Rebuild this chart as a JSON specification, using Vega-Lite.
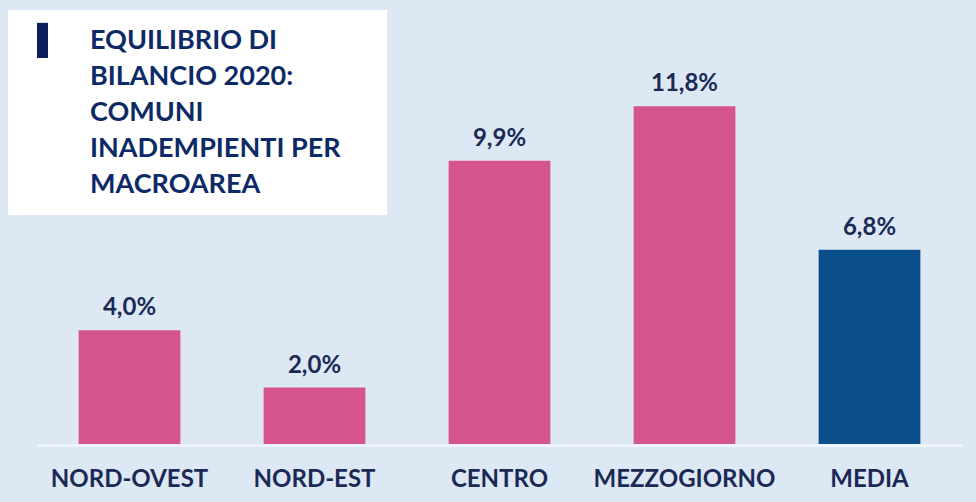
{
  "$schema": "https://vega.github.io/schema/vega-lite/v6.json",
  "width": 925,
  "height": 445,
  "autosize": "none",
  "padding": {"left": 37, "right": 14, "top": 0, "bottom": 57},
  "background": "#dde8f5",
  "config": {
    "view": {"stroke": null},
    "locale": {"number": {"decimal": ",", "thousands": ".", "grouping": [3], "currency": ["€", ""]}}
  },
  "title": {
    "text": ["EQUILIBRIO DI", "BILANCIO 2020:", "COMUNI", "INADEMPIENTI PER", "MACROAREA"],
    "anchor": "start",
    "frame": "group",
    "orient": "top",
    "offset": 0,
    "baseline": "top",
    "dx": 53,
    "dy": 199,
    "lineHeight": 36,
    "font": "Lato",
    "fontSize": 27,
    "fontWeight": "bold",
    "color": "#0d2a66"
  },
  "data": {
    "values": [
      {"area": "NORD-OVEST", "quota": 0.040, "tipo": "macroarea"},
      {"area": "NORD-EST", "quota": 0.020, "tipo": "macroarea"},
      {"area": "CENTRO", "quota": 0.099, "tipo": "macroarea"},
      {"area": "MEZZOGIORNO", "quota": 0.118, "tipo": "macroarea"},
      {"area": "MEDIA", "quota": 0.068, "tipo": "media"}
    ]
  },
  "encoding": {
    "x": {
      "field": "area",
      "type": "nominal",
      "sort": null,
      "scale": {"paddingInner": 0.45, "paddingOuter": 0.225},
      "axis": {
        "title": null,
        "labelAngle": 0,
        "ticks": false,
        "domainColor": "#eef3f9",
        "domainWidth": 3,
        "labelFont": "Lato",
        "labelFontSize": 24,
        "labelFontWeight": "bold",
        "labelColor": "#1b2a55",
        "labelPadding": 22,
        "labelLimit": 300
      }
    },
    "y": {
      "field": "quota",
      "type": "quantitative",
      "scale": {"domain": [0, 0.155], "nice": false},
      "axis": null
    }
  },
  "layer": [
    {
      "mark": {"type": "rect", "color": "#ffffff"},
      "encoding": {
        "x": {"datum": "NORD-OVEST", "bandPosition": -0.694},
        "x2": {"datum": "NORD-EST", "bandPosition": 1.213},
        "y": {"datum": 0.1515},
        "y2": {"datum": 0.0801}
      }
    },
    {
      "mark": {"type": "rect", "color": "#0b1f5c"},
      "encoding": {
        "x": {"datum": "NORD-OVEST", "bandPosition": -0.409},
        "x2": {"datum": "NORD-OVEST", "bandPosition": -0.301},
        "y": {"datum": 0.147},
        "y2": {"datum": 0.1348}
      }
    },
    {
      "mark": {"type": "bar"},
      "encoding": {
        "color": {
          "field": "tipo",
          "type": "nominal",
          "scale": {"domain": ["macroarea", "media"], "range": ["#d6548f", "#0a4e8a"]},
          "legend": null
        }
      }
    },
    {
      "mark": {"type": "text", "baseline": "alphabetic", "dy": -15, "font": "Lato", "fontSize": 24, "fontWeight": "bold", "color": "#1b2a55"},
      "encoding": {
        "text": {"field": "quota", "type": "quantitative", "format": ".1%"}
      }
    }
  ]
}
